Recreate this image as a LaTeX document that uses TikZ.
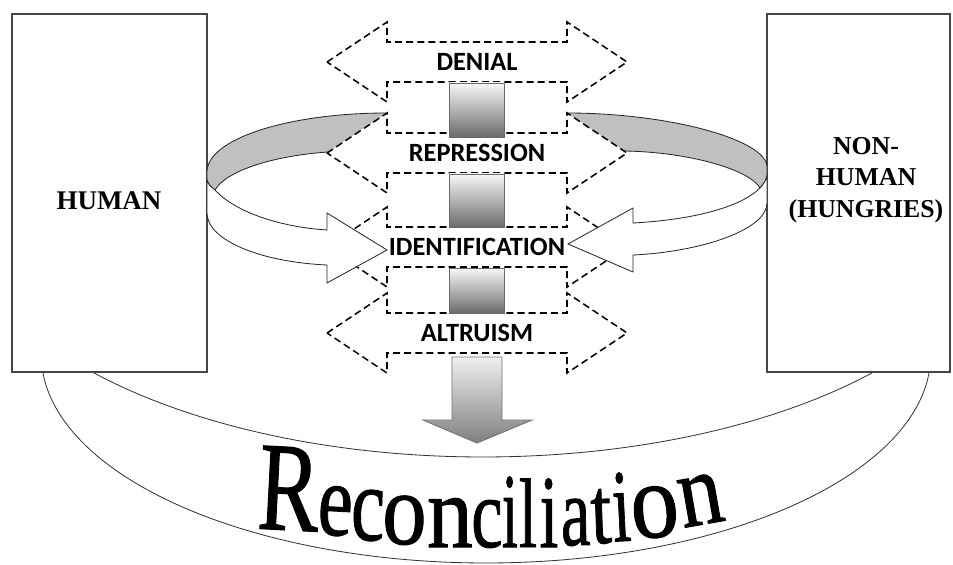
\documentclass[tikz,border=0pt]{standalone}
\usepackage{fontspec}
\usepackage{graphicx}
\setmainfont{Liberation Serif}
\newfontfamily\stagefont{Carlito}
\newfontfamily\reconfont[FakeBold=1]{Liberation Serif}
\definecolor{boxline}{RGB}{70,70,70}
\definecolor{ribbongray}{RGB}{192,192,192}
\definecolor{squareline}{RGB}{105,105,105}
\tikzset{
  sidebox/.style={draw=boxline, line width=1.2pt, fill=white},
  sidelabel/.style={font=\fontsize{23}{27}\selectfont\bfseries, align=center, inner sep=0pt},
  dasharrow/.style={draw, line width=1.3pt, dash pattern=on 6pt off 3.5pt, line join=miter},
  stage/.style={font=\stagefont\fontsize{22.5}{22.5}\selectfont\bfseries, inner sep=0pt},
  ribbon/.style={draw=black!85, line width=0.7pt},
  gradsquare/.style={top color=black!3, bottom color=black!58, draw=squareline, line width=0.8pt},
  bowl/.style={draw=black!80, line width=0.7pt}
}
\begin{document}
\begin{tikzpicture}[x=0.03cm, y=-0.03cm]
\useasboundingbox (0,0) rectangle (953,565);

% Side boxes
\draw[sidebox] (12,14) rectangle (207,372);
\draw[sidebox] (767,14) rectangle (950,372);
\node[sidelabel] (human) at (109,201) {HUMAN};
\node[sidelabel, font=\fontsize{22}{27}\selectfont\bfseries] (nonhuman) at (866,180) {NON-\\HUMAN\\(HUNGRIES)};

% Curved arrows, back halves
\fill[ribbongray] (387,113) .. controls (288,113) and (207,139) .. (207,172) -- (207,180) .. controls (209,185) .. (215,190) .. controls (225,172) and (270,156) .. (328,152) -- cycle;
\draw[ribbon] (387,113) .. controls (288,113) and (207,139) .. (207,172) -- (207,180) .. controls (209,185) .. (215,190) .. controls (225,172) and (270,156) .. (328,152);
\fill[ribbongray] (567,113) .. controls (670,113) and (767,140) .. (767,167) -- (767,176) .. controls (765,182) .. (760,188) .. controls (750,170) and (690,152) .. (624,151) -- cycle;
\draw[ribbon] (567,113) .. controls (670,113) and (767,140) .. (767,167) -- (767,176) .. controls (765,182) .. (760,188) .. controls (750,170) and (690,152) .. (624,151);

% Defence mechanisms
\foreach \cy/\nm/\lbl in {62/denial/DENIAL, 153/repression/REPRESSION, 247/identification/IDENTIFICATION, 333/altruism/ALTRUISM} {
    \draw[dasharrow] (327,\cy) -- (387,\cy-40) -- (387,\cy-20) -- (567,\cy-20) -- (567,\cy-40) -- (627,\cy)
        -- (567,\cy+40) -- (567,\cy+20) -- (387,\cy+20) -- (387,\cy+40) -- cycle;
    \node[stage] (\nm) at (477,\cy) {\lbl};
}
\foreach \ytop/\ybot in {83/137, 174/227, 268/313} {
    \shade[gradsquare] (449,\ytop) rectangle (504,\ybot);
}

% Curved arrows, front halves
\draw[ribbon, fill=white] (215,190) .. controls (235,212) and (280,227) .. (327,230) -- (327,213) -- (387,250) -- (327,283)
    -- (327,265) .. controls (260,262) and (207,240) .. (207,213) -- (207,180) .. controls (209,185) .. (215,190) -- cycle;
\draw[ribbon, fill=white] (760,188) .. controls (740,208) and (690,220) .. (633,223) -- (633,208) -- (568,244) -- (633,272)
    -- (633,255) .. controls (700,252) and (767,230) .. (767,203) -- (767,176) .. controls (765,182) .. (760,188) -- cycle;

% Down arrow
\shade[top color=black!6, bottom color=black!50, draw=black!55, line width=0.8pt]
    (452,357) -- (502,357) -- (502,420) -- (532,420) -- (477,443) -- (423,420) -- (452,420) -- cycle;

% Bowl
\draw[bowl] plot[domain=184.96:355.04, samples=80, smooth] ({486+444.7*cos(\x)}, {355-208*sin(\x)});
\draw[bowl] plot[domain=222.3:317.7, samples=60, smooth] ({483+526*cos(\x)}, {200-257*sin(\x)});

% Reconciliation
\foreach \ch/\cx/\by/\wx/\hy/\tilt in {R/287/530/0.92/1.27/-3, e/334/535/0.79/1.04/-3, c/367/540/0.76/1.07/-2,
    o/404/544/0.89/1.03/-1, n/450/547/0.92/1.04/0, c/487/547/0.71/1.0/0, i/510/547/0.58/1.07/0,
    l/528/547/0.66/0.99/0, i/549/547/0.68/1.04/0, a/576/545/0.67/0.99/1, t/602/543/0.75/0.96/2,
    i/623/541/0.66/1.04/3, o/657/537/0.97/1.08/5, n/705/524/0.89/1.04/10} {
    \node[anchor=base, inner sep=0pt, rotate=\tilt, font=\reconfont\fontsize{85}{85}\selectfont] at (\cx,\by) {\scalebox{\wx}[\hy]{\ch}};
}
\end{tikzpicture}
\end{document}
